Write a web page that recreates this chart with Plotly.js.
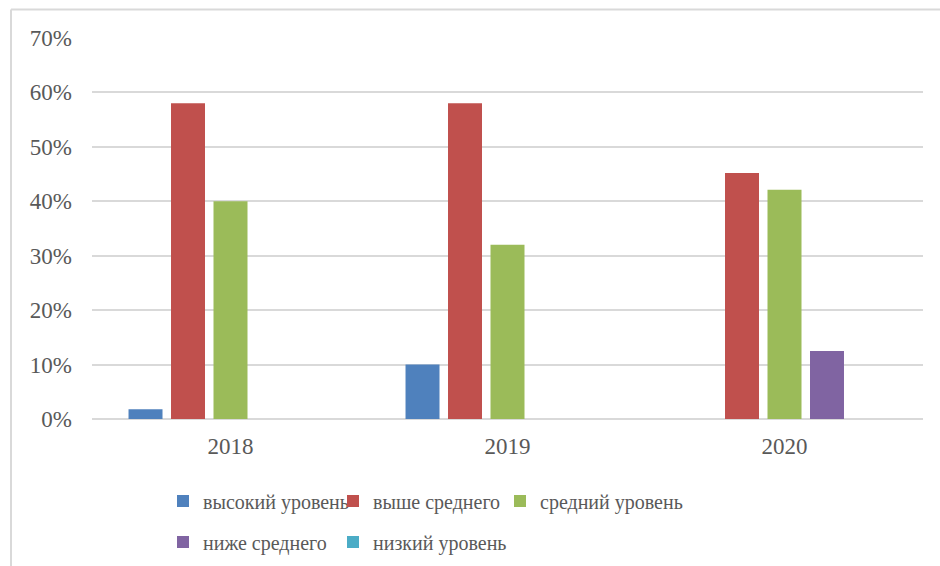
<!DOCTYPE html>
<html>
<head>
<meta charset="utf-8">
<script src="https://cdn.plot.ly/plotly-3.0.1.min.js"></script>
<style>
  html, body { margin: 0; padding: 0; background: #fff; }
  #chart { width: 940px; height: 566px; }
</style>
</head>
<body>
<div id="chart"></div>
<script>
const years = ['2018', '2019', '2020'];
const seriesNames = ['высокий уровень', 'выше среднего', 'средний уровень', 'ниже среднего', 'низкий уровень'];
const vysokiy = [0.018, 0.10, 0];
const vysheSrednego = [0.58, 0.58, 0.452];
const sredniy = [0.40, 0.32, 0.421];
const nizheSrednego = [0, 0, 0.125];
const nizkiy = [0, 0, 0];
const colors = ['#4f81bd', '#c0504d', '#9bbb59', '#8064a2', '#4bacc6'];
const tickLabels = ['0%', '10%', '20%', '30%', '40%', '50%', '60%', '70%'];
const tickValues = [0, 0.1, 0.2, 0.3, 0.4, 0.5, 0.6, 0.7];

const allValues = [vysokiy, vysheSrednego, sredniy, nizheSrednego, nizkiy];
const legendIds = ['legend', 'legend2', 'legend3', 'legend4', 'legend5'];
// legend text start (px) and row centre (px)
const legendTextX = [203, 373, 540, 203, 373];
const legendRowY = [501, 501, 501, 542, 542];

const traces = allValues.map((vals, i) => ({
  type: 'bar',
  name: seriesNames[i],
  x: years,
  y: vals,
  marker: { color: colors[i], line: { width: 0 } },
  legend: legendIds[i],
  hoverinfo: 'x+y+name'
}));

const textColor = '#595959';
const serif = 'Liberation Serif, Times New Roman, serif';
const font = { family: serif, size: 20, color: textColor };

const W = 940, H = 566;

const layout = {
  width: W,
  height: H,
  margin: { l: 92, r: 17, t: 37.5, b: 147, autoexpand: false },
  paper_bgcolor: '#ffffff',
  plot_bgcolor: '#ffffff',
  font: font,
  barmode: 'group',
  bargap: 0.233,
  bargroupgap: 0.2,
  showlegend: true,
  xaxis: {
    type: 'category',
    showgrid: false,
    showline: false,
    ticks: '',
    tickfont: { family: serif, size: 23, color: textColor },
    ticklabelstandoff: 11,
    fixedrange: true
  },
  yaxis: {
    range: [0, 0.7],
    tickvals: tickValues,
    ticktext: tickLabels,
    showgrid: true,
    gridcolor: '#d9d9d9',
    gridwidth: 1.5,
    zeroline: true,
    zerolinecolor: '#d9d9d9',
    zerolinewidth: 1.5,
    showline: false,
    ticks: '',
    tickfont: { family: serif, size: 23, color: textColor },
    ticklabelstandoff: 19,
    fixedrange: true
  },
  shapes: [
    { type: 'line', xref: 'paper', yref: 'paper',
      x0: (11 - 92) / 831, x1: (11 - 92) / 831, y0: (419 - 9) / 381.5, y1: (419 - 570) / 381.5,
      line: { color: '#d9d9d9', width: 2 } },
    { type: 'line', xref: 'paper', yref: 'paper',
      x0: (11 - 92) / 831, x1: (945 - 92) / 831, y0: (419 - 9) / 381.5, y1: (419 - 9) / 381.5,
      line: { color: '#d9d9d9', width: 2 } }
  ]
};

legendIds.forEach((id, i) => {
  layout[id] = {
    orientation: 'h',
    xref: 'container',
    yref: 'container',
    x: (legendTextX[i] - 40) / W,
    y: 1 - legendRowY[i] / H,
    xanchor: 'left',
    yanchor: 'middle',
    font: font,
    bgcolor: 'rgba(0,0,0,0)',
    itemclick: false,
    itemdoubleclick: false
  };
});

Plotly.newPlot('chart', traces, layout, { displayModeBar: false });
</script>
</body>
</html>
